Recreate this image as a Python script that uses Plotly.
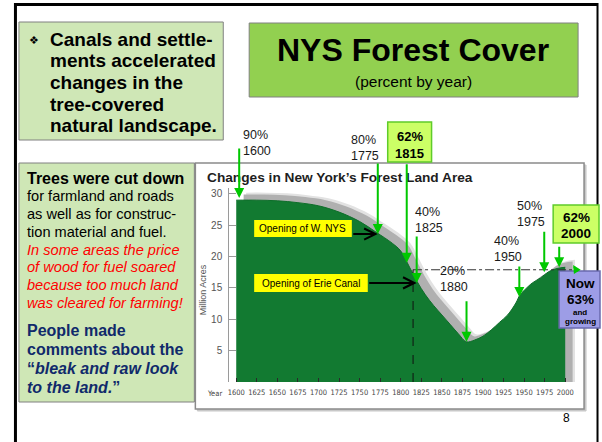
import plotly.graph_objects as go

# ---------------- data ----------------
years = [1600, 1625, 1650, 1675, 1700, 1725, 1750, 1770, 1790, 1800, 1810, 1820, 1830,
         1840, 1850, 1860, 1870, 1880, 1890, 1900, 1910, 1920, 1930, 1940, 1945, 1950,
         1960, 1970, 1980, 1990, 2000]
forest_acres = [29.0, 29.0, 28.9, 28.6, 28.1, 27.1, 25.6, 23.9, 22.1, 20.9, 18.5, 16.0, 13.9,
                12.2, 10.7, 9.2, 7.7, 6.4, 6.7, 7.3, 8.3, 9.5, 10.7, 12.6, 13.9, 14.6,
                15.8, 16.6, 17.6, 18.1, 18.3]
y_ticks = [5, 10, 15, 20, 25, 30]
x_ticks = [1600, 1625, 1650, 1675, 1700, 1725, 1750, 1775, 1800, 1825, 1850, 1875, 1900,
           1925, 1950, 1975, 2000]

label_pcts = ["90%", "80%", "62%", "40%", "20%", "40%", "50%", "62%"]
label_years = ["1600", "1775", "1815", "1825", "1880", "1950", "1975", "2000"]
arrow_years = [1603.6, 1772.1, 1807.3, 1819.4, 1880.0, 1944.2, 1974.5, 1992.7]
arrow_values = [29.35, 23.6, 19.0, 15.8, 6.4, 13.56, 17.5, 18.3]
level_2000 = 17.9
erie_year = 1815

box1_lines = ["Canals and settle-", "ments accelerated", "changes in the",
              "tree-covered", "natural landscape."]
box2_black = ["for farmland and roads", "as well as for construc-", "tion material and fuel."]
box2_red = ["In some areas the price", "of wood for fuel soared",
            "because too much land", "was cleared for farming!"]
box2_blue = ["People made", "comments about the", "“<i>bleak and raw look</i>",
             "<i>to the land.</i>”"]

# ---------------- helpers ----------------
W, H = 602, 442
FONT = "Liberation Sans, Arial, Helvetica, sans-serif"
NARROW = "Liberation Sans Narrow, Arial Narrow, DejaVu Sans Condensed, Liberation Sans, sans-serif"


def px(x):
    return x / W


def py(y):
    return 1 - y / H


annotations = []
shapes = []


def text(x, y, s, size, color="#000", bold=False, xanchor="left", family=FONT, **kw):
    if bold:
        s = "<b>" + s + "</b>"
    annotations.append(dict(x=px(x), y=py(y), xref="paper", yref="paper", text=s,
                            showarrow=False, xanchor=xanchor, yanchor="middle",
                            font=dict(size=size, color=color, family=family), **kw))


def rect(x0, y0, x1, y1, fill, line="#808080", lw=1, layer="above"):
    shapes.append(dict(type="rect", xref="paper", yref="paper", x0=px(x0), x1=px(x1),
                       y0=py(y1), y1=py(y0), fillcolor=fill,
                       line=dict(color=line, width=lw), layer=layer))


def pline(x0, y0, x1, y1, color="#000", lw=2):
    shapes.append(dict(type="line", xref="paper", yref="paper", x0=px(x0), x1=px(x1),
                       y0=py(y0), y1=py(y1), line=dict(color=color, width=lw), layer="above"))


fig = go.Figure()

# shadow (blurred look) and forest area
fig.add_trace(go.Scatter(x=[v + 12 for v in years], y=[v + 1.2 for v in forest_acres],
                         fill="tozeroy", mode="lines", line=dict(width=0, shape="spline"),
                         fillcolor="#e2e2e2", hoverinfo="skip"))
fig.add_trace(go.Scatter(x=[v + 9 for v in years], y=[v + 0.9 for v in forest_acres],
                         fill="tozeroy", mode="lines", line=dict(width=0, shape="spline"),
                         fillcolor="#b0b0b0", hoverinfo="skip"))
fig.add_trace(go.Scatter(x=years, y=forest_acres, fill="tozeroy", mode="lines",
                         line=dict(color="#0e6e2a", width=1, shape="spline"),
                         fillcolor="#127a31", hoverinfo="skip"))

# ---------------- slide frame ----------------
pline(13, 4.5, 598, 4.5, lw=3)
pline(13.5, 3, 13.5, 442, lw=3)
pline(597.5, 3, 597.5, 442, lw=2)

# left boxes
rect(17, 22, 222, 140, "#cfe7b6")
rect(17, 163, 193, 402, "#cfe7b6")
# title box
rect(248, 23, 578, 97, "#92d050")

# chart picture frame
rect(196, 165, 586, 411, "#c8c8c8", line="#c8c8c8", layer="below")
rect(194, 163, 584, 409, "#ffffff", line="#8a8a8a", lw=1.5, layer="below")

# highlighted label boxes
rect(387, 122, 431, 162, "#ccff66", line="#5fcc2a", lw=1.5)
rect(553, 205, 599, 243, "#ccff66", line="#5fcc2a", lw=1.5)
rect(559, 271, 600, 328, "#9d9de6", line="#6a6aae", lw=1.5)
# yellow event boxes
rect(253, 220, 351, 237, "#ffff00", line="#ffff00", lw=0)
rect(253, 274, 367, 292, "#ffff00", line="#ffff00", lw=0)

# reference lines (data coordinates)
shapes.append(dict(type="line", xref="x", yref="y", x0=erie_year, x1=2011.5,
                   y0=level_2000, y1=level_2000, line=dict(color="#333", width=1, dash="dashdot"),
                   layer="above"))
shapes.append(dict(type="line", xref="x", yref="y", x0=erie_year, x1=erie_year,
                   y0=0, y1=level_2000, line=dict(color="#111", width=1, dash="dash"),
                   layer="above"))

# ---------------- texts ----------------
text(32, 40, "❖", 11, xanchor="center", family="DejaVu Sans")
for i, s in enumerate(box1_lines):
    text(46, 39.5 + 21.5 * i, s, 19, bold=True)

text(23, 178, "Trees were cut down", 16, bold=True)
for i, s in enumerate(box2_black):
    text(23, 196 + 17.8 * i, s, 14.6)
for i, s in enumerate(box2_red):
    text(23, 249.5 + 17.7 * i, "<i>" + s + "</i>", 14.6, color="#ff0000")
for i, s in enumerate(box2_blue):
    text(23, 330 + 19.3 * i, s, 16, color="#102a6b", bold=True)

text(412, 50, "NYS Forest Cover", 32, bold=True, xanchor="center")
text(413, 81.5, "(percent by year)", 15.5, xanchor="center")

text(204, 177, "Changes in New York’s Forest Land Area", 13.7, color="#1e1e1e", bold=True)
text(213, 393, "Year", 7.5, color="#444", xanchor="center", family=NARROW)
annotations.append(dict(x=px(202), y=py(290), xref="paper", yref="paper", text="Million Acres",
                        showarrow=False, textangle=-90, xanchor="center", yanchor="middle",
                        font=dict(size=9, color="#555", family=FONT)))

text(302, 228.5, "Opening of W. NYS", 10, xanchor="center")
text(310, 283, "Opening of Erie Canal", 10, xanchor="center")

# percentage / year labels
plain_pos = {0: (240, 135), 1: (348, 140), 3: (412, 212), 4: (437, 271),
             5: (492, 241), 6: (515, 206)}
for i, (lx, ly) in plain_pos.items():
    text(lx, ly, label_pcts[i], 12.5, color="#1a1a1a")
    text(lx, ly + 16, label_years[i], 12.5, color="#1a1a1a")
text(409, 136, label_pcts[2], 13, bold=True, xanchor="center")
text(409, 153, label_years[2], 13, bold=True, xanchor="center")
text(576, 217, label_pcts[7], 13.5, bold=True, xanchor="center")
text(576, 233, label_years[7], 13.5, bold=True, xanchor="center")

text(580, 283, "Now", 13.5, bold=True, xanchor="center")
text(580, 299, "63%", 13.5, bold=True, xanchor="center")
text(580, 312, "and", 8, bold=True, xanchor="center")
text(580, 321, "growing", 8, bold=True, xanchor="center")

text(566, 418, "8", 12, xanchor="center")

# green arrows pointing at the curve
tail_offsets = [-51, -72, -100, -48, -42, -32, -42, -22]
for xv, yv, off in zip(arrow_years, arrow_values, tail_offsets):
    annotations.append(dict(x=xv, y=yv, xref="x", yref="y", text="", showarrow=True,
                            ax=0, ay=off, arrowhead=2, arrowsize=1, arrowwidth=2,
                            arrowcolor="#00c800", standoff=0))
# small arrow from the "Now" box
annotations.append(dict(x=px(573), y=py(265), xref="paper", yref="paper", text="",
                        showarrow=True, ax=5, ay=8, arrowhead=2, arrowsize=0.8,
                        arrowwidth=2, arrowcolor="#00c800", standoff=0))
# black arrows from the yellow boxes
annotations.append(dict(x=arrow_years[1], y=arrow_values[1], xref="x", yref="y", text="",
                        showarrow=True, ax=-26, ay=0, arrowhead=5, arrowsize=1.1,
                        arrowwidth=2, arrowcolor="#000", standoff=0))
annotations.append(dict(x=arrow_years[3], y=arrow_values[3], xref="x", yref="y", text="",
                        showarrow=True, ax=-49, ay=0, arrowhead=5, arrowsize=1.1,
                        arrowwidth=2, arrowcolor="#000", standoff=0))

fig.update_layout(
    width=W, height=H, autosize=False,
    margin=dict(l=0, r=0, t=0, b=0),
    paper_bgcolor="white", plot_bgcolor="rgba(0,0,0,0)",
    showlegend=False,
    shapes=shapes, annotations=annotations,
    xaxis=dict(domain=[px(228), px(575)], range=[1591.5, 2012], tickvals=x_ticks,
               ticktext=[str(t) for t in x_ticks], ticks="inside", ticklen=4,
               tickcolor="#2a2a2a", showline=False, showgrid=False, zeroline=False,
               tickfont=dict(size=7.5, color="#444", family=NARROW), ticklabelstandoff=4,
               fixedrange=True),
    yaxis=dict(domain=[py(382), py(188)], range=[0, 30.94], tickvals=y_ticks,
               ticks="inside", ticklen=7, tickcolor="#999", showline=True,
               linecolor="#9a9a9a", linewidth=1, showgrid=False, zeroline=False,
               tickfont=dict(size=10, color="#555", family=FONT), ticklabelstandoff=4,
               fixedrange=True),
)

fig.write_html("out.html")
